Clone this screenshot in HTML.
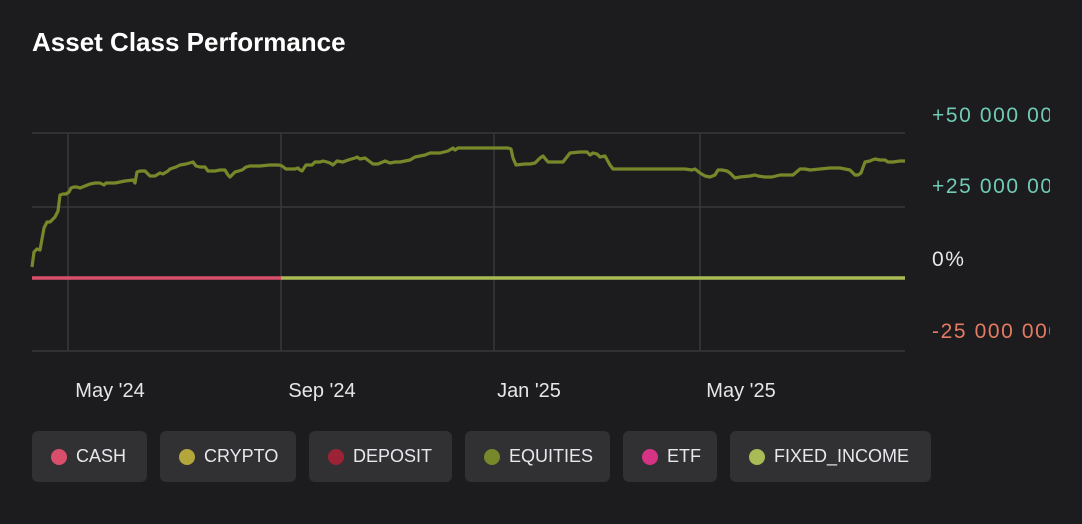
<!DOCTYPE html>
<html><head><meta charset="utf-8"><style>
body{margin:0;width:1082px;height:524px;background:#1c1c1e;font-family:"Liberation Sans",sans-serif;overflow:hidden;position:relative}
.t{position:absolute;left:32px;top:27px;color:#fff;font-size:26px;font-weight:bold}
.yl{position:absolute;left:932px;font-size:21px;letter-spacing:1.6px;white-space:nowrap;width:118px;overflow:hidden}
.xl{position:absolute;top:380px;color:#e6e6ea;font-size:20px;transform:translateX(-50%)}
.b{position:absolute;top:431px;height:51px;background:#313134;border-radius:6px;color:#e8e8ec;font-size:18px;line-height:51px;box-sizing:border-box;padding-left:44px}
.b i{position:absolute;left:19px;top:18px;width:16px;height:16px;border-radius:50%}
</style></head><body>
<div class="t">Asset Class Performance</div>
<svg width="1082" height="524" style="position:absolute;left:0;top:0">
<g stroke="#38383b" stroke-width="1.5">
<line x1="32" y1="133" x2="905" y2="133"/><line x1="32" y1="207" x2="905" y2="207"/><line x1="32" y1="351" x2="905" y2="351"/>
<line x1="68" y1="133" x2="68" y2="351"/><line x1="281" y1="133" x2="281" y2="351"/><line x1="494" y1="133" x2="494" y2="351"/><line x1="700" y1="133" x2="700" y2="351"/>
</g>
<line x1="32" y1="278" x2="281" y2="278" stroke="#d94f6b" stroke-width="3.5"/>
<line x1="281" y1="278" x2="905" y2="278" stroke="#a9bb55" stroke-width="3.5"/>
<polyline fill="none" stroke="#77882a" stroke-width="3.2" stroke-linejoin="round" points="32,267 34,252 37,249 40,250 44,228 47,222 50,222 55,217 58,211 60,195 63,194 66,194 69,192 71,188 74,187 77,187 80,188 85,186 90,184 95,183 100,183 104,185 106,183 115,183 125,181 133,180 135,183 137,172 140,171 145,171 150,176 155,176 160,173 163,174 168,171 170,169 176,167 180,165 186,164 193,162 196,166 200,167 205,167 208,171 215,171 220,170 225,170 228,175 230,177 235,172 242,170 246,167 250,166 260,166 270,165 279,165 282,166 286,169 295,169 298,168 300,170 302,171 306,165 312,165 315,162 320,162 323,161 327,162 330,163 333,165 337,161 343,162 348,160 355,158 357,157 360,159 365,158 369,161 373,164 378,164 385,161 390,163 395,162 400,162 405,161 410,160 415,157 420,156 425,155 430,153 440,153 448,151 453,148 455,150 458,148 470,148 490,148 508,148 511,149 513,158 516,165 525,164 530,164 535,163 540,158 543,156 548,162 563,162 570,153 580,152 587,152 590,155 593,153 597,154 600,157 605,156 610,165 613,169 620,169 640,169 685,169 692,170 695,169 700,173 705,176 710,177 715,175 718,170 722,170 727,171 730,173 735,178 740,177 750,176 755,175 758,176 765,177 772,177 780,175 793,175 800,169 805,169 810,170 820,169 830,168 840,168 850,170 855,175 858,175 861,173 865,162 870,161 872,160 875,159 880,160 885,160 888,162 893,162 900,161 905,161"/>
</svg>
<div class="yl" style="top:104px;color:#6fcbb5">+50 000 000%</div>
<div class="yl" style="top:175px;color:#6fcbb5">+25 000 000%</div>
<div class="yl" style="top:248px;color:#e8e8ec">0%</div>
<div class="yl" style="top:320px;color:#e57a62">-25 000 000%</div>
<div class="xl" style="left:110px">May '24</div>
<div class="xl" style="left:322px">Sep '24</div>
<div class="xl" style="left:529px">Jan '25</div>
<div class="xl" style="left:741px">May '25</div>
<div class="b" style="left:32px;width:115px"><i style="background:#d94f6b"></i>CASH</div>
<div class="b" style="left:160px;width:136px"><i style="background:#b3a63a"></i>CRYPTO</div>
<div class="b" style="left:309px;width:143px"><i style="background:#9c2235"></i>DEPOSIT</div>
<div class="b" style="left:465px;width:145px"><i style="background:#77882a"></i>EQUITIES</div>
<div class="b" style="left:623px;width:94px"><i style="background:#d63384"></i>ETF</div>
<div class="b" style="left:730px;width:201px"><i style="background:#a9bb55"></i>FIXED_INCOME</div>
</body></html>
